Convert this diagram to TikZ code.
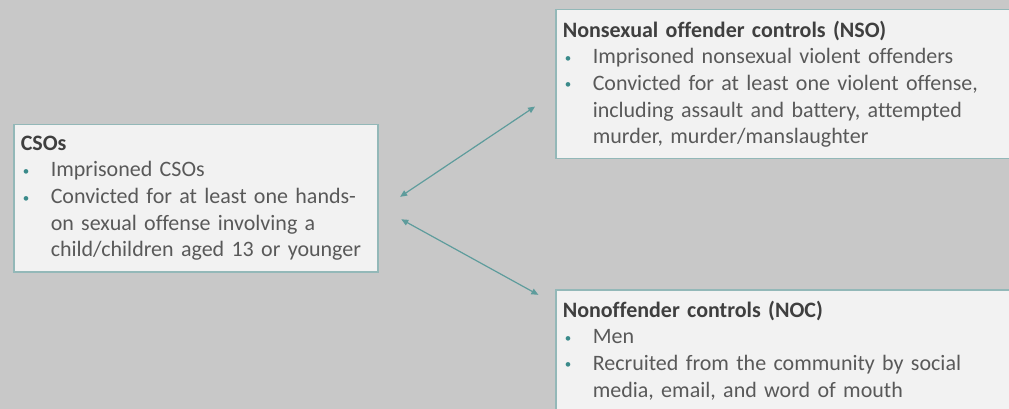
\documentclass[tikz,border=0pt]{standalone}
\usepackage{fontspec}
\setmainfont{Carlito}[Ligatures=NoCommon]
\usetikzlibrary{arrows.meta}
\definecolor{bgc}{HTML}{C8C8C8}
\definecolor{boxfill}{HTML}{F2F2F2}
\definecolor{boxline}{HTML}{93B8B8}
\definecolor{linkc}{HTML}{5E9C9C}
\definecolor{bulc}{HTML}{3A8A8A}
\definecolor{ttlc}{HTML}{3F3F3F}
\definecolor{txtc}{HTML}{595959}
\newcommand{\bl}{\makebox[30pt][l]{\hspace{2pt}\textcolor{bulc}{\fontsize{13}{13}\selectfont\raisebox{1.5pt}{\textbullet}}}}
\newcommand{\ind}{\hspace*{30pt}}
\newcommand{\ttl}[1]{\textcolor{ttlc}{\textbf{#1}}}

\begin{document}
\begin{tikzpicture}[x=1pt,y=-1pt,
   box/.style={draw=boxline,fill=boxfill,line width=1.5pt,anchor=north west,
      align=left,inner xsep=7pt,inner ysep=11pt,text=txtc,
      font=\fontsize{22}{26.7}\selectfont},
   link/.style={linkc,line width=1.2pt,
      {Triangle[length=7pt,width=6pt]}-{Triangle[length=7pt,width=6pt]}}]
   \useasboundingbox (0,0) rectangle (1009,409);
   \clip (0,0) rectangle (1009,409);
   \fill[bgc] (0,0) rectangle (1009,409);
   \node[box,text width=350pt] (cso) at (13,124)
      {\ttl{CSOs}\\
       \bl Imprisoned CSOs\\
       \bl Convicted for at least one hands-\\
       \ind on sexual offense involving a\\
       \ind child/children aged 13 or younger};
   \node[box,text width=456pt] (nso) at (555,9)
      {\ttl{Nonsexual offender controls (NSO)}\\
       \bl Imprisoned nonsexual violent offenders\\
       \bl Convicted for at least one violent offense,\\
       \ind including assault and battery, attempted\\
       \ind murder, murder/manslaughter};
   \node[box,text width=456pt] (noc) at (555,289)
      {\ttl{Nonoffender controls (NOC)}\\
       \bl Men\\
       \bl Recruited from the community by social\\
       \ind media, email, and word of mouth};
   \draw[link,shorten <=26pt,shorten >=24pt] ([yshift=-13pt]cso.east) -- ([yshift=-9pt]nso.west);
   \draw[link,shorten <=26pt,shorten >=19pt] ([yshift=-8.5pt]cso.east) -- ([yshift=-15pt]noc.north west);
\end{tikzpicture}
\end{document}
